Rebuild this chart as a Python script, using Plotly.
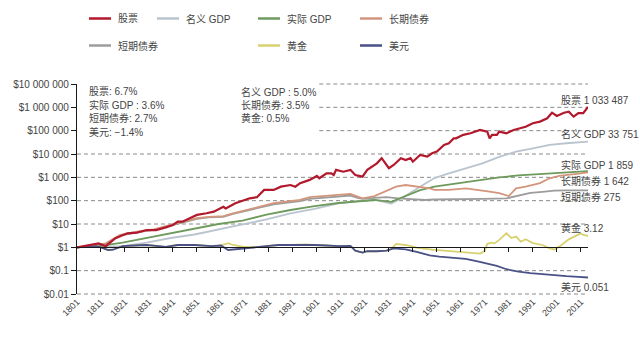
import plotly.graph_objects as go

# ---------------- data ----------------
stock_years = [1801,1806,1810,1813,1817,1822,1826,1830,1834,1838,1841,1843,1845,1848,1851,1855,1858,1862,1863,1867,
               1869,1873,1876,1879,1883,1886,1890,1892,1894,1898,1901,1902,1905,1907,1908,1909,1912,1915,1917,1920,
               1922,1924,1926,1928,1931,1933,1936,1938,1940,1941,1944,1947,1949,1951,1954,1956,1958,1959,1962,1965,
               1967,1969,1972,1973,1974,1976,1977,1980,1983,1986,1988,1991,1994,1997,1999,2001,2004,2006,2008,2010,
               2012,2014]
stock_vals = [1,1.26,1.48,1.12,2.45,3.98,4.27,5.5,5.5,7.2,9.1,12.6,12.6,17.8,24.5,28.8,33.9,55,46.8,77.6,
              91,126,141,288,288,398,468,398,562,776,1150,912,1480,1480,1260,2090,1740,2090,1260,1070,
              2090,2880,3980,6610,2450,3390,6610,5500,6610,4680,9120,7760,10700,12600,24500,28800,46800,46800,66100,77600,
              91200,107000,91200,46800,66100,66100,91200,77600,107000,126000,148000,209000,245000,339000,589000,427000,589000,646000,398000,562000,
              562000,1033487]

ngdp_years = [1801,1810,1820,1830,1840,1850,1860,1870,1880,1890,1900,1910,1918,1925,1932,1937,1944,1950,1956,1963,
              1970,1977,1984,1991,1998,2005,2010,2014]
ngdp_vals = [1,1.05,1.12,1.58,2.51,3.55,5.62,9.55,15.8,28.2,44.7,75.9,95.5,107,75.9,141,398,933,1479,2455,
             3981,7586,12589,17579,24378,28840,30903,33751]

rgdp_years = [1801,1810,1820,1830,1840,1850,1860,1870,1880,1890,1900,1910,1920,1925,1932,1938,1944,1950,1960,1970,
              1977,1985,1998,2005,2014]
rgdp_vals = [1,1.12,1.58,2.51,3.98,6.31,10,14.1,25.1,39.8,58.9,79.4,100,107,89.1,158,282,398,562,794,
             1000,1202,1479,1660,1859]

bond_years = [1801,1806,1813,1819,1826,1833,1840,1844,1851,1856,1862,1866,1872,1877,1883,1888,1894,1898,1905,1911,
              1915,1918,1920,1925,1929,1934,1938,1944,1948,1950,1956,1963,1969,1973,1977,1981,1984,1988,1994,1998,
              2002,2006,2011,2014]
bond_vals = [1,1.12,1.48,3.39,4.68,5.89,9.12,11.5,17.8,20.4,21.9,28.8,39.8,55,77.6,91.2,107,141,158,174,
             195,148,126,158,245,398,468,398,339,288,288,339,288,245,209,158,339,398,562,912,
             1148,1259,1479,1642]

bill_years = [1801,1806,1813,1819,1826,1833,1840,1844,1851,1856,1862,1866,1872,1877,1883,1888,1894,1898,1905,1911,
              1915,1918,1920,1925,1930,1935,1940,1946,1950,1960,1970,1980,1985,1990,1995,2000,2005,2010,2014]
bill_vals = [1,1.1,1.41,3.16,4.37,5.62,8.51,10.7,16.6,19.1,20.4,26.9,36.3,50.1,69.2,81.3,95.5,120,135,151,
             166,132,120,132,141,126,120,107,112,112,120,126,166,214,240,269,275,282,275]

gold_years = [1801,1805,1809,1811,1814,1816,1820,1825,1830,1835,1838,1843,1850,1857,1860,1862,1864,1866,1870,1875,
              1880,1885,1890,1896,1900,1905,1910,1915,1917,1920,1922,1926,1930,1932,1934,1938,1943,1949,1955,1961,
              1969,1971,1972,1974,1975,1977,1980,1982,1984,1986,1988,1991,1995,1998,2000,2002,2006,2011,2012,2014]
gold_vals = [1,1.05,1.12,1,0.76,0.79,1.12,1.2,1.26,1.12,1.05,1.26,1.26,1.12,1.15,1.32,1.5,1.26,1.07,1.0,
             1.12,1.26,1.26,1.35,1.26,1.2,1.12,1.15,0.72,0.59,0.68,0.68,0.72,0.85,1.41,1.26,0.95,0.79,0.71,0.65,
             0.54,0.7,1.41,1.58,1.48,2.09,3.98,2.51,2.88,1.74,2.24,1.51,1.26,0.91,0.81,1.07,2.19,3.98,3.39,3.12]

usd_years = [1801,1805,1809,1811,1814,1816,1820,1825,1830,1835,1838,1843,1850,1857,1861,1864,1866,1870,1875,1880,
             1885,1890,1896,1900,1905,1910,1915,1917,1920,1922,1926,1930,1933,1938,1943,1948,1952,1957,1963,1968,
             1972,1976,1980,1985,1990,1995,2000,2005,2010,2014]
usd_vals = [1,1.05,1.12,1,0.76,0.79,1.12,1.2,1.26,1.12,1.05,1.26,1.26,1.12,1.2,0.77,0.8,0.89,1,1.12,
            1.26,1.26,1.35,1.26,1.2,1.12,1.15,0.72,0.59,0.68,0.68,0.72,0.91,0.82,0.63,0.45,0.4,0.37,0.32,0.25,
            0.2,0.16,0.115,0.091,0.078,0.069,0.063,0.058,0.054,0.051]

series_names = ["股票", "名义 GDP", "实际 GDP", "长期债券", "短期债券", "黄金", "美元"]
series_colors = ["#B2192D", "#BAC4CE", "#6E9A5C", "#D3967C", "#9C9C9C", "#D8D170", "#4A5186"]

end_labels = ["股票 1 033 487", "名义 GDP 33 751", "实际 GDP 1 859", "长期债券 1 642",
              "短期债券 275", "黄金 3.12", "美元 0.051"]
end_label_pos = [1.9e6, 72000, 3380, 700, 144, 6.75, 0.02]

cagr_left = ["股票: 6.7%", "实际 GDP : 3.6%", "短期债券: 2.7%", "美元: −1.4%"]
cagr_right = ["名义 GDP : 5.0%", "长期债券: 3.5%", "黄金: 0.5%"]

y_tick_vals = [0.01, 0.1, 1, 10, 100, 1000, 1e4, 1e5, 1e6, 1e7]
y_tick_text = ["$0.01", "$0.1", "$1", "$10", "$100", "$1 000", "$10 000", "$100 000",
               "$1 000 000", "$10 000 000"]
x_tick_vals = list(range(1801, 2012, 10))

FONT = "Liberation Sans, Noto Sans CJK SC, sans-serif"
TXT = "#444444"

data = {
    "股票": (stock_years, stock_vals),
    "名义 GDP": (ngdp_years, ngdp_vals),
    "实际 GDP": (rgdp_years, rgdp_vals),
    "长期债券": (bond_years, bond_vals),
    "短期债券": (bill_years, bill_vals),
    "黄金": (gold_years, gold_vals),
    "美元": (usd_years, usd_vals),
}
color_of = dict(zip(series_names, series_colors))

fig = go.Figure()
draw_order = ["短期债券", "名义 GDP", "实际 GDP", "长期债券", "黄金", "美元", "股票"]
for name in draw_order:
    xs, ys = data[name]
    fig.add_trace(go.Scatter(x=xs, y=ys, mode="lines", name=name,
                             line=dict(color=color_of[name], width=2.2 if name == "股票" else 1.8),
                             showlegend=False, hoverinfo="skip"))

# invisible trace carrying the $1 reference axis
fig.add_trace(go.Scatter(x=[1801, 2014], y=[None, None], xaxis="x2", yaxis="y",
                         showlegend=False, hoverinfo="skip"))

# dashed gridlines
shapes = []
for v in y_tick_vals:
    if v == 1:
        continue
    frac = (len(str(int(v))) if v >= 1 else 0)
    import math
    pos = (math.log10(v) + 2) / 9.0
    x0 = 1902 if v >= 1e5 else 1801
    shapes.append(dict(type="line", xref="x", yref="paper", x0=x0, x1=2014, y0=pos, y1=pos,
                       line=dict(color="#8a8a8a", width=1, dash="4px,3px"), layer="below"))

# manual legend
W, H, L, T = 511.0, 210.0, 77.0, 84.0
def px(xp):
    return (xp - L) / W
def py(yp):
    return (T + H - yp) / H

legend_items = [("股票", 89, 18.5), ("名义 GDP", 157, 18.5), ("实际 GDP", 258, 18.5), ("长期债券", 360, 18.5),
                ("短期债券", 89, 45.5), ("黄金", 258, 45.5), ("美元", 360, 45.5)]
annotations = []
for name, lx, ly in legend_items:
    shapes.append(dict(type="line", xref="paper", yref="paper", x0=px(lx), x1=px(lx + 22),
                       y0=py(ly), y1=py(ly), line=dict(color=color_of[name], width=2.5)))
    annotations.append(dict(xref="paper", yref="paper", x=px(lx + 27), y=py(ly), text=name,
                            showarrow=False, xanchor="left", yanchor="middle",
                            font=dict(family=FONT, size=10, color=TXT)))

for i, t in enumerate(cagr_left):
    annotations.append(dict(xref="paper", yref="paper", x=px(87), y=py(91.5 + 13.4 * i), text=t,
                            showarrow=False, xanchor="left", yanchor="middle",
                            font=dict(family=FONT, size=10, color=TXT)))
for i, t in enumerate(cagr_right):
    annotations.append(dict(xref="paper", yref="paper", x=px(239), y=py(91.5 + 13.4 * i), text=t,
                            showarrow=False, xanchor="left", yanchor="middle",
                            font=dict(family=FONT, size=10, color=TXT)))

import math as _m
for t, v in zip(end_labels, end_label_pos):
    annotations.append(dict(xref="x", yref="y", x=2002, y=_m.log10(v), text=t,
                            showarrow=False, xanchor="left", yanchor="middle",
                            font=dict(family=FONT, size=10, color=TXT)))

fig.update_layout(
    width=640, height=337,
    margin=dict(l=77, r=52, t=84, b=43),
    paper_bgcolor="white", plot_bgcolor="white",
    font=dict(family=FONT, size=10, color=TXT),
    shapes=shapes, annotations=annotations,
    xaxis=dict(range=[1801, 2014], showline=False, showgrid=False, zeroline=False,
               tickvals=x_tick_vals, ticktext=[str(v) for v in x_tick_vals],
               tickangle=-45, ticks="", tickfont=dict(family=FONT, size=9, color=TXT)),
    xaxis2=dict(range=[1801, 2014], overlaying="x", anchor="free", position=2 / 9.0, side="bottom",
                showline=True, linecolor="#1a1a1a", linewidth=1.3, showgrid=False, zeroline=False,
                ticks="outside", ticklen=4, tickwidth=1, tickcolor="#1a1a1a",
                tickvals=x_tick_vals[1:], showticklabels=False),
    yaxis=dict(type="log", range=[-2, 7], showline=True, linecolor="#1a1a1a", linewidth=1.3,
               showgrid=False, zeroline=False, ticks="outside", ticklen=5, tickwidth=1, tickcolor="#1a1a1a",
               tickvals=y_tick_vals, ticktext=y_tick_text, tickfont=dict(family=FONT, size=10, color=TXT)),
)

fig.write_html("out.html")
